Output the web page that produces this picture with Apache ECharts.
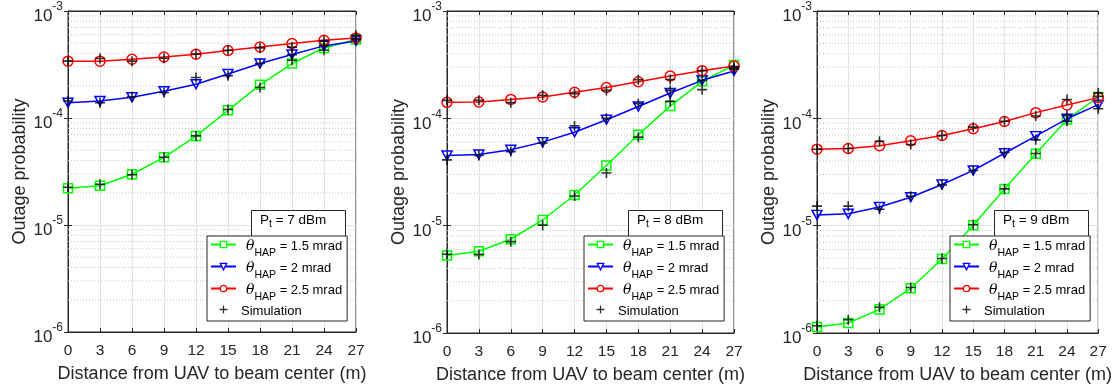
<!DOCTYPE html>
<html><head><meta charset="utf-8">
<script src="https://cdn.jsdelivr.net/npm/echarts@6/dist/echarts.min.js"></script>
<style>html,body{margin:0;padding:0;background:#fff}#c{width:1115px;height:390px}</style>
</head><body><div id="c"></div>
<script>
const xVals = [0, 3, 6, 9, 12, 15, 18, 21, 24, 27];
const yTicks = [1e-6, 1e-5, 1e-4, 1e-3];
const powerLabels = ['7', '8', '9'];
const thetaLabels = ['1.5', '2', '2.5'];

// Pt = 7 dBm
const th15_p7 = [2.2e-5, 2.33e-5, 2.98e-5, 4.29e-5, 6.78e-5, 1.18e-4, 2.04e-4, 3.23e-4, 4.52e-4, 5.41e-4];
const th2_p7  = [1.39e-4, 1.44e-4, 1.56e-4, 1.78e-4, 2.07e-4, 2.58e-4, 3.23e-4, 3.92e-4, 4.72e-4, 5.25e-4];
const th25_p7 = [3.40e-4, 3.40e-4, 3.54e-4, 3.72e-4, 3.95e-4, 4.27e-4, 4.61e-4, 4.97e-4, 5.33e-4, 5.60e-4];
const sim15_p7 = [2.25e-5, 2.4e-5, 2.95e-5, 4.3e-5, 6.8e-5, 1.2e-4, 1.93e-4, 3.47e-4, 4.3e-4, 5.4e-4];
const sim2_p7  = [1.44e-4, 1.39e-4, 1.58e-4, 1.73e-4, 2.39e-4, 2.48e-4, 3.23e-4, 3.9e-4, 4.75e-4, 5.52e-4];
const sim25_p7 = [3.4e-4, 3.6e-4, 3.4e-4, 3.62e-4, 3.97e-4, 4.3e-4, 4.52e-4, 4.6e-4, 5.3e-4, 5.93e-4];

// Pt = 8 dBm
const th15_p8 = [5.26e-6, 5.78e-6, 7.47e-6, 1.13e-5, 1.93e-5, 3.64e-5, 7.03e-5, 1.30e-4, 2.21e-4, 3.14e-4];
const th2_p8  = [4.51e-5, 4.6e-5, 5.09e-5, 6.0e-5, 7.43e-5, 9.7e-5, 1.29e-4, 1.72e-4, 2.26e-4, 2.76e-4];
const th25_p8 = [1.41e-4, 1.42e-4, 1.50e-4, 1.58e-4, 1.75e-4, 1.94e-4, 2.19e-4, 2.48e-4, 2.78e-4, 3.07e-4];
const sim15_p8 = [5.42e-6, 5.4e-6, 7.1e-6, 1.01e-5, 1.89e-5, 3.1e-5, 6.68e-5, 1.44e-4, 1.85e-4, 3.0e-4];
const sim2_p8  = [4.1e-5, 4.5e-5, 4.9e-5, 5.9e-5, 8.5e-5, 1.0e-4, 1.37e-4, 1.82e-4, 2.26e-4, 2.9e-4];
const sim25_p8 = [1.47e-4, 1.47e-4, 1.4e-4, 1.64e-4, 1.70e-4, 1.82e-4, 2.29e-4, 2.3e-4, 2.78e-4, 2.9e-4];

// Pt = 9 dBm
const th15_p9 = [1.14e-6, 1.24e-6, 1.66e-6, 2.61e-6, 4.89e-6, 1.01e-5, 2.2e-5, 4.68e-5, 9.77e-5, 1.58e-4];
const th2_p9  = [1.26e-5, 1.29e-5, 1.49e-5, 1.84e-5, 2.42e-5, 3.27e-5, 4.73e-5, 6.83e-5, 9.9e-5, 1.34e-4];
const th25_p9 = [5.16e-5, 5.24e-5, 5.55e-5, 6.18e-5, 6.92e-5, 8.0e-5, 9.35e-5, 1.13e-4, 1.33e-4, 1.56e-4];
const sim15_p9 = [1.17e-6, 1.33e-6, 1.74e-6, 2.65e-6, 4.95e-6, 1.02e-5, 2.2e-5, 4.7e-5, 9.4e-5, 1.6e-4];
const sim2_p9  = [1.52e-5, 1.52e-5, 1.42e-5, 1.88e-5, 2.4e-5, 3.27e-5, 4.8e-5, 6.3e-5, 1.06e-4, 1.23e-4];
const sim25_p9 = [5.16e-5, 5.24e-5, 6.12e-5, 5.71e-5, 6.92e-5, 8.28e-5, 9.4e-5, 1.05e-4, 1.5e-4, 1.72e-4];

const theory = [[th15_p7, th2_p7, th25_p7], [th15_p8, th2_p8, th25_p8], [th15_p9, th2_p9, th25_p9]];
const sims = [[sim15_p7, sim2_p7, sim25_p7], [sim15_p8, sim2_p8, sim25_p8], [sim15_p9, sim2_p9, sim25_p9]];

// minor log grid positions (2..9 within each decade)
const minorGrid = [];
for (let d = -6; d < -3; d++) for (let m = 2; m <= 9; m++) minorGrid.push(m * Math.pow(10, d));

const FONT = '"Liberation Sans", Arial, Helvetica, sans-serif';
const AX = '#262626';
const colors = ['#00ff00', '#0000ff', '#ff0000'];
const symbols = ['rect', 'path://M0,0 L10,0 L5,8.66 Z', 'circle'];
const symSize = [[9, 9], [10, 9], [10, 10]];
const plusPath = 'path://M4.2,0 H5.8 V4.2 H10 V5.8 H5.8 V10 H4.2 V5.8 H0 V4.2 H4.2 Z';

const grids = [
  {left: 68, top: 11, width: 288, height: 321},
  {left: 447, top: 11, width: 287, height: 322},
  {left: 817, top: 11, width: 283, height: 322}
];
const legendPos = [
  {left: 207, top: 236, pLeft: 251},
  {left: 584, top: 236, pLeft: 628},
  {left: 950, top: 236, pLeft: 994}
];

const option = {
  animation: false,
  backgroundColor: '#fff',
  textStyle: {fontFamily: FONT},
  grid: grids.map(g => Object.assign({show: true, borderColor: AX, borderWidth: 1, backgroundColor: 'transparent'}, g)),
  xAxis: [], yAxis: [], series: [], legend: [], title: []
};

for (let p = 0; p < 3; p++) {
  option.xAxis.push({
    type: 'value', gridIndex: p, min: 0, max: 27, interval: 3,
    name: 'Distance from UAV to beam center (m)', nameLocation: 'middle', nameGap: 33,
    nameTextStyle: {fontSize: 18, color: AX, fontFamily: FONT},
    axisLine: {show: true, lineStyle: {color: AX, width: 1}},
    axisTick: {show: true, inside: true, length: 4, lineStyle: {color: AX}},
    axisLabel: {fontSize: 15.5, color: AX, margin: 11, fontFamily: FONT},
    splitLine: {show: true, lineStyle: {color: '#e3e3e3', width: 1}}
  });
  option.xAxis.push({
    type: 'value', gridIndex: p, min: 0, max: 27, interval: 3, position: 'top',
    axisLine: {show: true, lineStyle: {color: AX, width: 1}},
    axisTick: {show: true, inside: true, length: 4, lineStyle: {color: AX}},
    axisLabel: {show: false}, splitLine: {show: false}
  });
  const yCommon = {
    type: 'log', logBase: 10, gridIndex: p, min: 1e-6, max: 1e-3,
    axisLine: {show: true, lineStyle: {color: AX, width: 1}},
    axisTick: {show: true, inside: true, length: 4, lineStyle: {color: AX}}
  };
  option.yAxis.push(Object.assign({}, yCommon, {
    name: 'Outage probability', nameLocation: 'middle', nameGap: 39,
    nameTextStyle: {fontSize: 18, color: AX, fontFamily: FONT},
    axisLabel: {
      color: AX, margin: 5, fontFamily: FONT,
      formatter: v => {
        const e = Math.round(Math.log10(v));
        return '{b|10}{s|' + e + '}';
      },
      rich: {
        b: {fontSize: 17, color: AX, fontFamily: FONT, verticalAlign: 'bottom', lineHeight: 20, padding: [0, 0, -4, 0]},
        s: {fontSize: 12, color: AX, fontFamily: FONT, verticalAlign: 'top', lineHeight: 20, padding: [0, 0, 8, 0]}
      }
    },
    splitLine: {show: true, lineStyle: {color: '#e3e3e3', width: 1}}
  }));
  option.yAxis.push(Object.assign({}, yCommon, {
    position: 'right', axisLabel: {show: false}, splitLine: {show: false}
  }));

  // dotted minor grid lines at 2..9 x 10^n, drawn through the log axis
  minorGrid.forEach(v => {
    option.series.push({
      type: 'line', name: 'minor', xAxisIndex: 2 * p, yAxisIndex: 2 * p,
      data: [[0, v], [27, v]], symbol: 'none', silent: true,
      lineStyle: {color: '#c4c4c4', type: [1, 2], width: 1}, z: 1
    });
  });

  for (let k = 0; k < 3; k++) {
    option.series.push({
      type: 'line', name: thetaLabels[k], xAxisIndex: 2 * p, yAxisIndex: 2 * p,
      data: xVals.map((x, i) => [x, theory[p][k][i]]),
      symbol: symbols[k], symbolSize: symSize[k], showAllSymbol: true,
      lineStyle: {color: colors[k], width: 1.5},
      itemStyle: {color: 'rgba(255,255,255,0)', borderColor: colors[k], borderWidth: 1.5},
      z: 3 + k
    });
  }
  for (let k = 0; k < 3; k++) {
    option.series.push({
      type: 'scatter', name: 'Simulation', xAxisIndex: 2 * p, yAxisIndex: 2 * p,
      data: xVals.map((x, i) => [x, sims[p][k][i]]),
      symbol: plusPath, symbolSize: 10,
      itemStyle: {color: '#000'}, z: 10
    });
  }

  const lp = legendPos[p];
  option.legend.push({
    orient: 'vertical', left: lp.left, top: lp.top,
    backgroundColor: '#fff', borderColor: AX, borderWidth: 1,
    padding: [3, 5, 3, 3], itemGap: 2, itemWidth: 25, itemHeight: 8,
    data: thetaLabels.map((n, k) => ({name: n, itemStyle: {color: '#fff', borderColor: colors[k], borderWidth: 1.3}}))
      .concat([{name: 'Simulation', icon: plusPath, itemStyle: {color: '#000', borderWidth: 0}}]),
    formatter: n => n === 'Simulation' ? '{t|Simulation}' : '{th|θ}{sub|HAP}{t| = ' + n + ' mrad}',
    textStyle: {
      fontFamily: FONT, color: '#000', fontSize: 13,
      rich: {
        th: {fontSize: 14, fontStyle: 'italic', fontFamily: '"DejaVu Serif", serif', color: '#000', verticalAlign: 'bottom', lineHeight: 17, padding: [0, 0, 0, 5]},
        sub: {fontSize: 10.5, color: '#000', fontFamily: FONT, verticalAlign: 'bottom', lineHeight: 17, padding: [0, 0, -6, 0]},
        t: {fontSize: 13, color: '#000', fontFamily: FONT, verticalAlign: 'bottom', lineHeight: 17}
      }
    },
    z: 20
  });
  option.title.push({
    left: lp.pLeft, top: 209, text: '{t|P}{sub|t}{t| = ' + powerLabels[p] + ' dBm}',
    backgroundColor: '#fff', borderColor: AX, borderWidth: 1,
    padding: [3, 19, 7, 9],
    textStyle: {
      fontFamily: FONT, fontSize: 13.5, fontWeight: 'normal',
      rich: {
        t: {fontSize: 13.5, color: '#000', fontFamily: FONT, lineHeight: 16},
        sub: {fontSize: 10.5, color: '#000', fontFamily: FONT, lineHeight: 16, padding: [0, 0, -8, 0]}
      }
    },
    z: 19
  });
}

const chart = echarts.init(document.getElementById('c'), null, {renderer: 'canvas'});
chart.setOption(option);
</script></body></html>
